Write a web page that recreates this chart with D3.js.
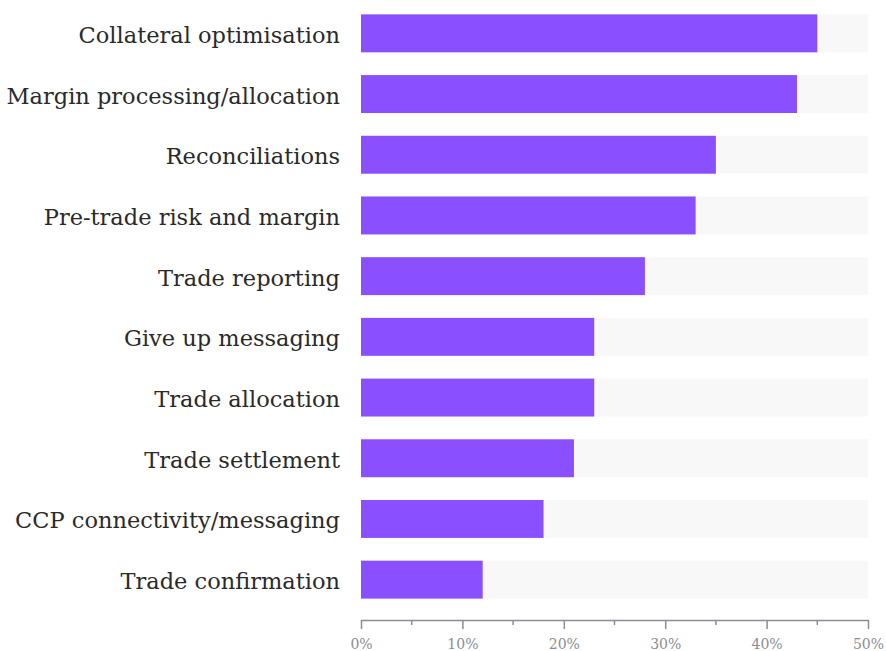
<!DOCTYPE html>
<html>
<head>
<meta charset="utf-8">
<script src="https://cdn.jsdelivr.net/npm/d3@7"></script>
<style>
  html, body { margin: 0; padding: 0; background: #fff; }
  svg { display: block; }
</style>
</head>
<body>
<svg id="chart" width="886" height="651"></svg>
<script>
// Survey responses: share of respondents per area
const categories = [
  "Collateral optimisation",
  "Margin processing/allocation",
  "Reconciliations",
  "Pre-trade risk and margin",
  "Trade reporting",
  "Give up messaging",
  "Trade allocation",
  "Trade settlement",
  "CCP connectivity/messaging",
  "Trade confirmation"
];
const values = [45, 43, 35, 33, 28, 23, 23, 21, 18, 12];
const majorTicks = [0, 10, 20, 30, 40, 50];
const minorTicks = [5, 15, 25, 35, 45];
const axisMax = 50;

const svg = d3.select("#chart");
const margin = { left: 361, right: 18, top: 3, bottom: 41 };
const width = 886, height = 651;

const x = d3.scaleLinear().domain([0, axisMax]).range([margin.left, width - margin.right]);
const y = d3.scaleBand().domain(categories)
  .range([margin.top, height - margin.bottom])
  .paddingInner(0.375).paddingOuter(0.1875);

const labelFont = "'DejaVu Serif', serif";

// background tracks
svg.append("g").selectAll("rect").data(categories).join("rect")
  .attr("x", x(0)).attr("y", d => y(d))
  .attr("width", x(axisMax) - x(0)).attr("height", y.bandwidth())
  .attr("fill", "#f8f8f8");

// value bars
svg.append("g").selectAll("rect").data(values).join("rect")
  .attr("x", x(0)).attr("y", (d, i) => y(categories[i]))
  .attr("width", d => x(d) - x(0)).attr("height", y.bandwidth())
  .attr("fill", "#8a4fff");

// category labels
svg.append("g").selectAll("text").data(categories).join("text")
  .attr("x", x(0) - 21).attr("y", d => y(d) + y.bandwidth() / 2)
  .attr("dy", "0.42em").attr("text-anchor", "end")
  .attr("font-family", labelFont).attr("font-size", 22.5)
  .attr("fill", "#2a2a2a")
  .text(d => d);

// bottom axis
const axisY = 620;
const axis = svg.append("g").attr("transform", `translate(0,${axisY})`);
axis.call(d3.axisBottom(x).tickValues(majorTicks).tickSizeInner(9).tickSizeOuter(0)
  .tickFormat(d => d + "%"));
axis.select(".domain").attr("stroke", "#8c8c96").attr("stroke-width", 1.5);
axis.selectAll(".tick line").attr("stroke", "#8c8c96").attr("stroke-width", 1.5);
axis.selectAll(".tick text").attr("font-family", labelFont).attr("font-size", 14)
  .attr("fill", "#8c8c96").attr("dy", "1.2em");
axis.selectAll(".minor").data(minorTicks).join("line").attr("class", "minor")
  .attr("x1", d => x(d)).attr("x2", d => x(d)).attr("y1", 0).attr("y2", 5)
  .attr("stroke", "#8c8c96").attr("stroke-width", 1.5);
</script>
</body>
</html>
